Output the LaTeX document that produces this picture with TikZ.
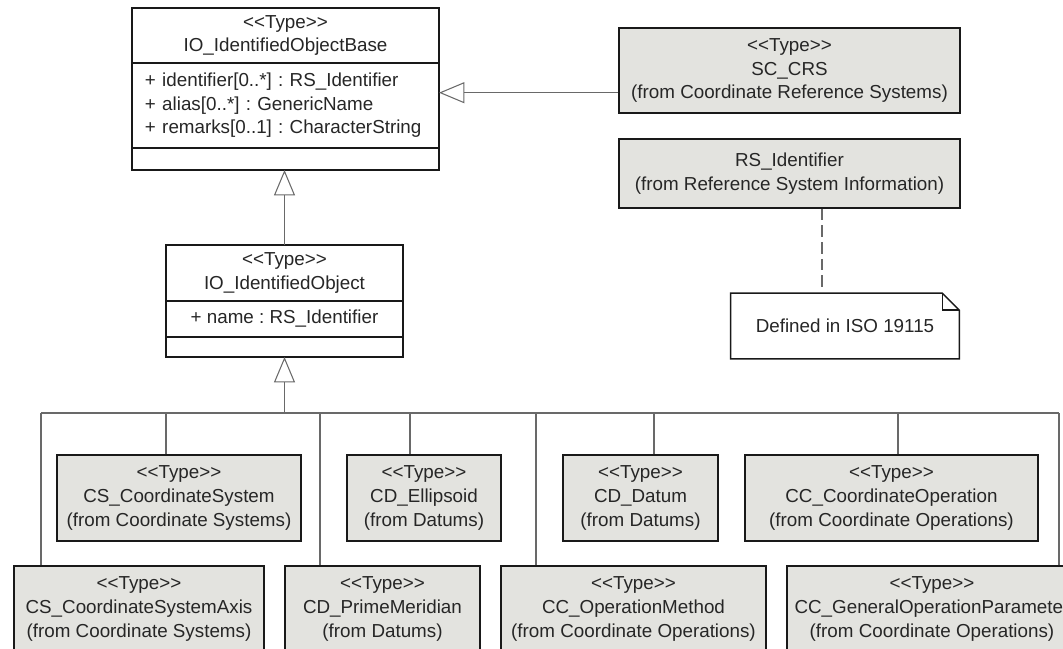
\documentclass[tikz,border=0pt]{standalone}
\usepackage{fontspec}
\setmainfont{Liberation Sans}
\usepackage{tikz}
\usetikzlibrary{arrows.meta, calc, positioning}

\definecolor{typefill}{RGB}{227,227,223}
\definecolor{linkgray}{RGB}{105,105,105}
\newcommand{\stype}{<\kern0pt<Type>\kern0pt>}
\frenchspacing

\begin{document}
\begin{tikzpicture}[x=0.2mm, y=-0.2mm,
    every node/.style={font=\fontsize{10.7}{13.4}\selectfont, text=black!85},
    umlbox/.style={draw=black!90, line width=0.8pt, fill=white, inner sep=0pt, outer sep=0pt},
    typebox/.style={draw=black!90, line width=0.8pt, fill=typefill, align=center, inner sep=0pt, minimum height=1.72cm},
    link/.style={draw=linkgray, line width=0.6pt},
    gen/.style={link, -{Triangle[open, length=14.5pt, width=12pt]}}]
        %\draw [help lines, step=50] (0,0) grid (1063,649);
        \useasboundingbox (0,0) rectangle (1063,649);
        \clip (0,0) rectangle (1063,649);

        % IO_IdentifiedObjectBase
        \node[umlbox, minimum width=6.14cm, minimum height=1.1cm, align=center] (basehead) at (285.5,35.5) {\stype\\IO\_IdentifiedObjectBase};
        \node[umlbox, below=0pt of basehead, align=left, text width=5.62cm, inner xsep=0.26cm, minimum height=1.7cm] (baseattr) {+ identifier[0..*] : RS\_Identifier\\+ alias[0..*] : GenericName\\+ remarks[0..1] : CharacterString};
        \node[umlbox, below=0pt of baseattr, minimum width=6.14cm, minimum height=0.44cm] (baseops) {};

        % IO_IdentifiedObject
        \node[umlbox, minimum width=4.74cm, minimum height=1.12cm, align=center] (iohead) at (284.5,273) {\stype\\IO\_IdentifiedObject};
        \node[umlbox, below=0pt of iohead, minimum width=4.74cm, minimum height=0.72cm] (ioattr) {+ name : RS\_Identifier};
        \node[umlbox, below=0pt of ioattr, minimum width=4.74cm, minimum height=0.4cm] (ioops) {};

        % right column
        \node[typebox, minimum width=6.82cm, minimum height=1.7cm] (sccrs) at (789.5,70.5) {\stype\\SC\_CRS\\(from Coordinate Reference Systems)};
        \node[typebox, minimum width=6.82cm, minimum height=1.38cm] (rsid) at (789.5,173.5) {RS\_Identifier\\(from Reference System Information)};
        \node[minimum width=4.56cm, minimum height=1.3cm, inner sep=0pt] (note) at (845,326) {Defined in ISO 19115};
        \draw[black!90, line width=0.8pt] (note.north west) -- ($(note.north east)+(-17,0)$) -- ($(note.north east)+(0,17)$) -- (note.south east) -- (note.south west) -- cycle;
        \draw[black!90, line width=0.8pt] ($(note.north east)+(-17,0)$) |- ($(note.north east)+(0,17)$);

        % subtypes, upper row
        \node[typebox, minimum width=4.88cm] (cs) at (179,498) {\stype\\CS\_CoordinateSystem\\(from Coordinate Systems)};
        \node[typebox, minimum width=3.08cm] (ellip) at (424,498) {\stype\\CD\_Ellipsoid\\(from Datums)};
        \node[typebox, minimum width=3.1cm] (datum) at (640.5,498) {\stype\\CD\_Datum\\(from Datums)};
        \node[typebox, minimum width=5.86cm] (coordop) at (891.5,498) {\stype\\CC\_CoordinateOperation\\(from Coordinate Operations)};

        % subtypes, lower row
        \node[typebox, minimum width=5cm] (csaxis) at (139,609) {\stype\\CS\_CoordinateSystemAxis\\(from Coordinate Systems)};
        \node[typebox, minimum width=3.9cm] (pm) at (382.5,609) {\stype\\CD\_PrimeMeridian\\(from Datums)};
        \node[typebox, minimum width=5.3cm] (opmeth) at (633.5,609) {\stype\\CC\_OperationMethod\\(from Coordinate Operations)};
        \node[typebox, minimum width=5.8cm] (genpar) at (932,609) {\stype\\CC\_GeneralOperationParameter\\(from Coordinate Operations)};

        % generalisations
        \draw[gen] (iohead.north) -- (iohead.north |- baseops.south);
        \path (sccrs.south west) ++(0,-21) coordinate (crsfoot);
        \draw[gen] (crsfoot) -- (crsfoot -| baseattr.east);
        \draw[link, dash pattern=on 6.5pt off 3pt] (822,0 |- rsid.south) -- (822,0 |- note.north);

        \coordinate (busL) at (41,413);
        \coordinate (busR) at (1059,413);
        \draw[link] (busL) -- (busR);
        \draw[gen] (busL -| ioops.south) -- (ioops.south);
        \foreach \x/\nm in {41/csaxis, 166/cs, 320/pm, 410/ellip, 536/opmeth, 654/datum, 898/coordop, 1059/genpar}
            \draw[link] (\x,0 |- \nm.north) -- (\x,0 |- busL);
    \end{tikzpicture}
\end{document}
